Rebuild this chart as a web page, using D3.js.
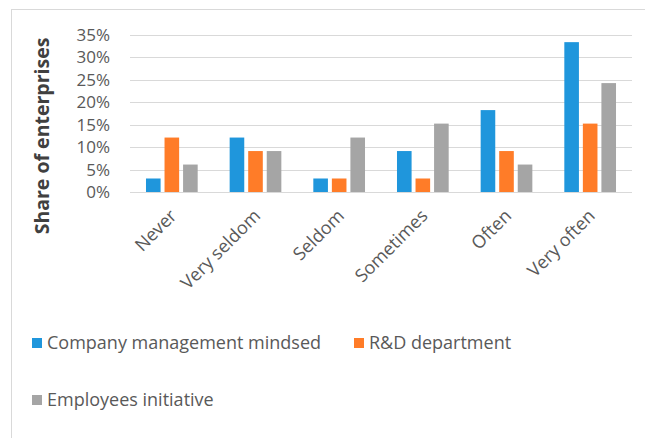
<!DOCTYPE html>
<html>
<head>
<meta charset="utf-8">
<script src="https://cdn.jsdelivr.net/npm/d3@7/dist/d3.min.js"></script>
<style>
  html, body { margin: 0; padding: 0; background: #fff; }
  svg { display: block; }
  text { font-family: "Open Sans", "Noto Sans", sans-serif; }
</style>
</head>
<body>
<svg id="chart" width="645" height="438"></svg>
<script>
const categories = ["Never", "Very seldom", "Seldom", "Sometimes", "Often", "Very often"];
const seriesNames = ["Company management mindsed", "R&D department", "Employees initiative"];
const management = [3.0, 12.1, 3.0, 9.1, 18.2, 33.3];
const rnd = [12.1, 9.1, 3.0, 3.0, 9.1, 15.2];
const employees = [6.1, 9.1, 12.1, 15.2, 6.1, 24.2];
const colors = ["#1f96dc", "#ff7c28", "#a5a5a5"];
const yTicks = [0, 5, 10, 15, 20, 25, 30, 35];

const seriesValues = [management, rnd, employees];

const svg = d3.select("#chart");
const W = 645, H = 438;

// chart frame
svg.append("rect")
  .attr("x", 11.5).attr("y", 9.5)
  .attr("width", W + 10).attr("height", H + 10)
  .attr("fill", "#fff").attr("stroke", "#d9d9d9").attr("stroke-width", 1);

const plot = { left: 130, right: 632, top: 34.5, bottom: 192 };

const x = d3.scaleBand().domain(categories).range([plot.left, plot.right]).padding(0);
const y = d3.scaleLinear().domain([0, 35]).range([plot.bottom, plot.top]);

// gridlines
svg.append("g").selectAll("line").data(yTicks).join("line")
  .attr("x1", plot.left).attr("x2", plot.right)
  .attr("y1", d => Math.round(y(d)) + 0.5).attr("y2", d => Math.round(y(d)) + 0.5)
  .attr("stroke", "#d9d9d9").attr("stroke-width", 1.2);

// y axis labels
const yAxis = d3.axisLeft(y).tickValues(yTicks).tickFormat(d => d + "%").tickSize(0).tickPadding(0);
const yg = svg.append("g").attr("transform", `translate(110,0)`).call(yAxis);
yg.select(".domain").remove();
yg.selectAll("text")
  .attr("fill", "#595959").style("font-size", "17px")
  .attr("dy", "0.35em");

// bars: Excel gap width 219%, overlap -27%
const band = x.bandwidth();
const barW = band / (3 + 2 * 0.27 + 2.19);
const inner = barW * 0.27;
const groupW = 3 * barW + 2 * inner;

seriesValues.forEach((vals, si) => {
  svg.append("g").selectAll("rect").data(vals.map((v, i) => ({ v, c: categories[i] }))).join("rect")
    .attr("x", d => x(d.c) + band / 2 - groupW / 2 + si * (barW + inner))
    .attr("width", barW)
    .attr("y", d => y(d.v))
    .attr("height", d => y(0) - y(d.v))
    .attr("fill", colors[si]);
});

// x labels rotated
const xAxis = d3.axisBottom(x).tickSize(0).tickPadding(0);
const xg = svg.append("g").attr("transform", `translate(0,${plot.bottom})`).call(xAxis);
xg.select(".domain").remove();
xg.selectAll("text")
  .attr("fill", "#595959").style("font-size", "18px")
  .attr("text-anchor", "end")
  .attr("x", 0).attr("y", 0).attr("dy", 0)
  .attr("transform", "translate(6,25) rotate(-45)");

// y title
svg.append("text")
  .attr("transform", `translate(49,136) rotate(-90)`)
  .attr("text-anchor", "middle")
  .attr("fill", "#404040")
  .style("font-size", "19.5px").style("font-weight", "bold")
  .text("Share of enterprises");

// legend
const legendItems = [
  { name: seriesNames[0], color: colors[0], x: 32, y: 343 },
  { name: seriesNames[1], color: colors[1], x: 354, y: 343 },
  { name: seriesNames[2], color: colors[2], x: 32, y: 400 }
];
const lg = svg.append("g").selectAll("g").data(legendItems).join("g")
  .attr("transform", d => `translate(${d.x},${d.y})`);
lg.append("rect").attr("x", 0).attr("y", -5).attr("width", 10).attr("height", 10).attr("fill", d => d.color);
lg.append("text").attr("x", 15).attr("y", 0).attr("dy", "0.35em")
  .attr("fill", "#595959").style("font-size", "18px")
  .text(d => d.name);
</script>
</body>
</html>
